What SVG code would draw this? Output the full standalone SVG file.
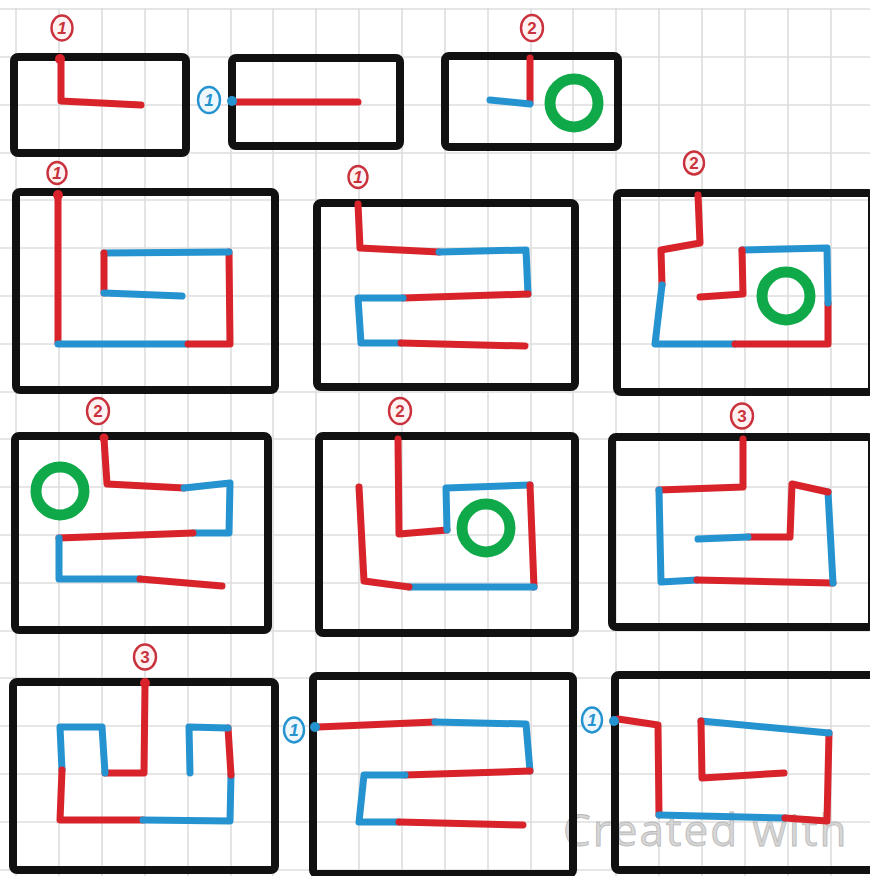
<svg xmlns="http://www.w3.org/2000/svg" width="870" height="876" viewBox="0 0 870 876">
<style>
.grid line{stroke:#dedede;stroke-width:1.6}
.box{fill:none;stroke:#111;stroke-width:8;stroke-linejoin:round}
.r{fill:none;stroke:#d8232a;stroke-width:7;stroke-linecap:round;stroke-linejoin:round}
.b{fill:none;stroke:#2593cf;stroke-width:7;stroke-linecap:round;stroke-linejoin:round}
.g{fill:none;stroke:#10a94a;stroke-width:11}
.lr ellipse{fill:#fff2f2;stroke:#c9323c;stroke-width:2.4}
.lr text{fill:#c9323c;font-family:"Liberation Sans",Arial,sans-serif;font-size:17px;font-weight:bold;text-anchor:middle}
.lb ellipse{fill:#eef7fc;stroke:#2593cf;stroke-width:2.4}
.lb text{fill:#2593cf;font-family:"Liberation Sans",Arial,sans-serif;font-size:17px;font-weight:bold;text-anchor:middle}
.dr{fill:#d8232a}
.db{fill:#2593cf}
.wm{fill:#d6d6d6;stroke:#b8b8b8;stroke-width:0.8;font-family:"Open Sans","Liberation Sans",sans-serif;font-size:44px;letter-spacing:2px}
</style>
<rect width="870" height="876" fill="#fff"/>
<g class="grid">
<line x1="16" y1="8" x2="16" y2="876"/><line x1="59" y1="8" x2="59" y2="876"/><line x1="102" y1="8" x2="102" y2="876"/><line x1="145" y1="8" x2="145" y2="876"/><line x1="188" y1="8" x2="188" y2="876"/><line x1="231" y1="8" x2="231" y2="876"/><line x1="273" y1="8" x2="273" y2="876"/><line x1="316" y1="8" x2="316" y2="876"/><line x1="359" y1="8" x2="359" y2="876"/><line x1="402" y1="8" x2="402" y2="876"/><line x1="445" y1="8" x2="445" y2="876"/><line x1="488" y1="8" x2="488" y2="876"/><line x1="531" y1="8" x2="531" y2="876"/><line x1="573" y1="8" x2="573" y2="876"/><line x1="616" y1="8" x2="616" y2="876"/><line x1="659" y1="8" x2="659" y2="876"/><line x1="702" y1="8" x2="702" y2="876"/><line x1="745" y1="8" x2="745" y2="876"/><line x1="788" y1="8" x2="788" y2="876"/><line x1="831" y1="8" x2="831" y2="876"/>
<line x1="0" y1="9" x2="870" y2="9"/><line x1="0" y1="57" x2="870" y2="57"/><line x1="0" y1="105" x2="870" y2="105"/><line x1="0" y1="153" x2="870" y2="153"/><line x1="0" y1="200" x2="870" y2="200"/><line x1="0" y1="248" x2="870" y2="248"/><line x1="0" y1="296" x2="870" y2="296"/><line x1="0" y1="344" x2="870" y2="344"/><line x1="0" y1="392" x2="870" y2="392"/><line x1="0" y1="439" x2="870" y2="439"/><line x1="0" y1="487" x2="870" y2="487"/><line x1="0" y1="535" x2="870" y2="535"/><line x1="0" y1="583" x2="870" y2="583"/><line x1="0" y1="631" x2="870" y2="631"/><line x1="0" y1="678" x2="870" y2="678"/><line x1="0" y1="726" x2="870" y2="726"/><line x1="0" y1="774" x2="870" y2="774"/><line x1="0" y1="822" x2="870" y2="822"/><line x1="0" y1="870" x2="870" y2="870"/>
</g>
<text class="wm" x="563" y="846">Created with</text>

<g id="boxA">
<rect class="box" x="14" y="57" width="172" height="96" rx="4"/>
<polyline class="r" points="61,60 61,101 141,105"/>
<circle class="dr" cx="60" cy="59" r="5"/>
<g class="lr"><ellipse cx="62" cy="28" rx="10.5" ry="12.5"/><text x="62" y="34" font-style="italic">1</text></g>
</g>
<g id="boxB">
<rect class="box" x="232" y="58" width="168" height="88" rx="4"/>
<polyline class="r" points="237,102 358,102"/>
<circle class="db" cx="232" cy="101" r="5"/>
<g class="lb"><ellipse cx="209" cy="100" rx="11" ry="13"/><text x="209" y="106" font-style="italic">1</text></g>
</g>
<g id="boxC">
<rect class="box" x="445" y="56" width="173" height="91" rx="4"/>
<polyline class="r" points="530,58 530,103"/>
<polyline class="b" points="530,104 490,100"/>
<circle class="g" cx="574" cy="103" r="24"/>
<g class="lr"><ellipse cx="532" cy="28" rx="11" ry="13"/><text x="532" y="34">2</text></g>
</g>

<g id="boxD">
<rect class="box" x="16" y="192" width="259" height="198" rx="4"/>
<polyline class="r" points="58,196 58,343"/>
<polyline class="b" points="58,344 188,344"/>
<polyline class="r" points="188,344 230,344 229,252"/>
<polyline class="b" points="229,252 104,253"/>
<polyline class="r" points="104,253 104,293"/>
<polyline class="b" points="104,293 182,296"/>
<circle class="dr" cx="58" cy="195" r="5"/>
<g class="lr"><ellipse cx="57" cy="173" rx="9.5" ry="11"/><text x="57" y="179" font-style="italic">1</text></g>
</g>
<g id="boxE">
<rect class="box" x="317" y="203" width="258" height="184" rx="4"/>
<polyline class="r" points="358,204 360,248 439,252"/>
<polyline class="b" points="439,252 526,250 528,294"/>
<polyline class="r" points="528,294 403,298"/>
<polyline class="b" points="403,298 358,298 361,343 401,343"/>
<polyline class="r" points="401,343 525,346"/>
<g class="lr"><ellipse cx="358" cy="177" rx="9.5" ry="11"/><text x="358" y="183" font-style="italic">1</text></g>
</g>
<g id="boxF">
<rect class="box" x="617" y="193" width="255" height="199" rx="4"/>
<polyline class="r" points="698,195 700,243 661,250 662,285"/>
<polyline class="b" points="662,285 655,344 735,344"/>
<polyline class="r" points="735,344 828,344 828,303"/>
<polyline class="b" points="828,303 827,248 742,250"/>
<polyline class="r" points="742,250 743,294 700,297"/>
<circle class="g" cx="786" cy="296" r="24"/>
<g class="lr"><ellipse cx="694" cy="163" rx="10" ry="11.5"/><text x="694" y="169">2</text></g>
</g>

<g id="boxG">
<rect class="box" x="15" y="436" width="253" height="194" rx="4"/>
<polyline class="r" points="104,439 107,484 184,488"/>
<polyline class="b" points="184,488 230,483 229,533 193,533"/>
<polyline class="r" points="193,533 59,538"/>
<polyline class="b" points="59,538 59,579 140,579"/>
<polyline class="r" points="140,579 222,586"/>
<circle class="dr" cx="104" cy="438" r="4.5"/>
<circle class="g" cx="60" cy="491" r="24"/>
<g class="lr"><ellipse cx="98" cy="411" rx="11" ry="13"/><text x="98" y="417">2</text></g>
</g>
<g id="boxH">
<rect class="box" x="319" y="436" width="256" height="197" rx="4"/>
<polyline class="r" points="398,439 399,534 447,530"/>
<polyline class="b" points="447,530 446,488 530,485"/>
<polyline class="r" points="530,485 534,587"/>
<polyline class="b" points="534,587 409,587"/>
<polyline class="r" points="409,587 364,581 359,487"/>
<circle class="g" cx="486" cy="528" r="24"/>
<g class="lr"><ellipse cx="400" cy="411" rx="11" ry="13"/><text x="400" y="417">2</text></g>
</g>
<g id="boxI">
<rect class="box" x="612" y="437" width="260" height="190" rx="4"/>
<polyline class="r" points="743,439 743,487 659,490"/>
<polyline class="b" points="659,490 661,582 697,580"/>
<polyline class="r" points="697,580 833,583"/>
<polyline class="b" points="833,583 828,492"/>
<polyline class="r" points="828,492 792,484 790,537 748,537"/>
<polyline class="b" points="748,537 698,539"/>
<g class="lr"><ellipse cx="742" cy="416" rx="11" ry="12.5"/><text x="742" y="422">3</text></g>
</g>

<g id="boxJ">
<rect class="box" x="13" y="682" width="262" height="188" rx="4"/>
<polyline class="r" points="145,685 144,773 105,773"/>
<polyline class="b" points="105,773 102,727 60,727 62,770"/>
<polyline class="r" points="62,770 60,820 143,820"/>
<polyline class="b" points="143,820 230,821 231,775"/>
<polyline class="r" points="231,775 228,728"/>
<polyline class="b" points="228,728 189,727 190,773"/>
<circle class="dr" cx="145" cy="683" r="5"/>
<g class="lr"><ellipse cx="145" cy="657" rx="11" ry="12.5"/><text x="145" y="663">3</text></g>
</g>
<g id="boxK">
<rect class="box" x="313" y="676" width="260" height="198" rx="4"/>
<polyline class="r" points="318,727 435,722"/>
<polyline class="b" points="435,722 526,724 530,771"/>
<polyline class="r" points="530,771 405,775"/>
<polyline class="b" points="405,775 364,775 359,822 399,822"/>
<polyline class="r" points="399,822 523,825"/>
<circle class="db" cx="315" cy="727" r="5"/>
<g class="lb"><ellipse cx="294" cy="730" rx="10" ry="12.5"/><text x="294" y="736" font-style="italic">1</text></g>
</g>
<g id="boxL">
<rect class="box" x="615" y="675" width="260" height="195" rx="4"/>
<polyline class="r" points="618,719 658,725 659,815"/>
<polyline class="b" points="659,815 785,818"/>
<polyline class="r" points="785,818 827,821 829,733"/>
<polyline class="b" points="829,733 701,721"/>
<polyline class="r" points="701,721 702,778 784,773"/>
<circle class="db" cx="614" cy="721" r="5"/>
<g class="lb"><ellipse cx="592" cy="720" rx="10" ry="12.5"/><text x="592" y="726" font-style="italic">1</text></g>
</g>
<g id="connectors"/>
</svg>
